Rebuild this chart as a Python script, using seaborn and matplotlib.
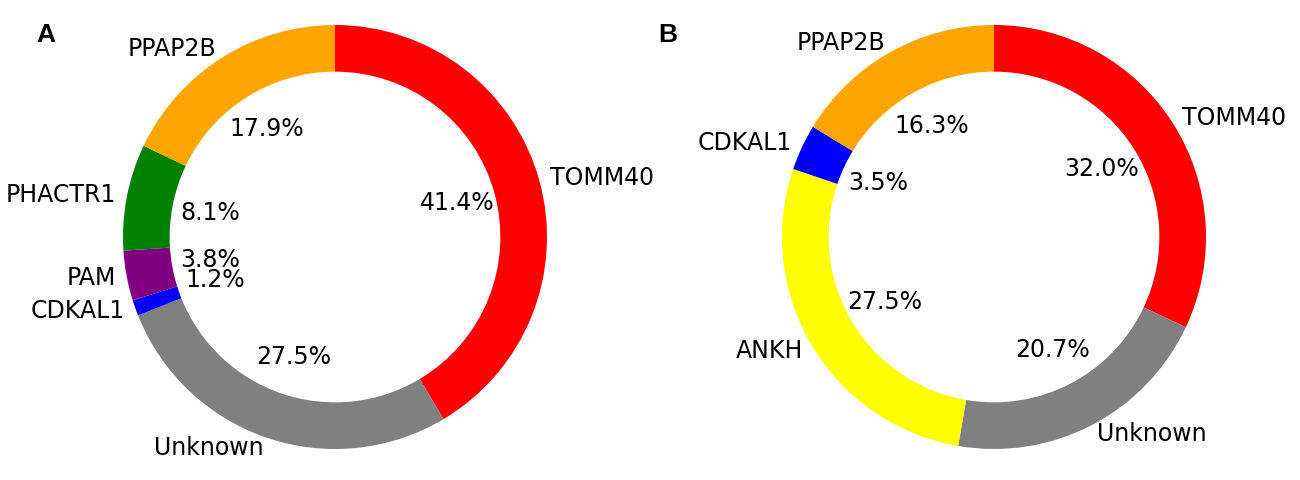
import matplotlib
matplotlib.use("Agg")
import matplotlib.pyplot as plt
import seaborn as sns

# Panel A data
genes_a = ["TOMM40", "Unknown", "CDKAL1", "PAM", "PHACTR1", "PPAP2B"]
pct_a = [41.4, 27.5, 1.2, 3.8, 8.1, 17.9]
colors_a = ["red", "gray", "blue", "purple", "green", "orange"]

# Panel B data
genes_b = ["TOMM40", "Unknown", "ANKH", "CDKAL1", "PPAP2B"]
pct_b = [32.0, 20.7, 27.5, 3.5, 16.3]
colors_b = ["red", "gray", "yellow", "blue", "orange"]

sns.set_theme(style="white")
plt.rcParams['font.family'] = ['DejaVu Sans']

W, H = 1300, 480
fig = plt.figure(figsize=(W / 100, H / 100), dpi=100)
fig.patch.set_facecolor("white")

R = 212  # pixel radius


def donut(cx, cy, genes, vals, cols, letter, lx, ly):
    ax = fig.add_axes([(cx - R) / W, (H - cy - R) / H, 2 * R / W, 2 * R / H])
    ax.pie(vals, labels=genes, colors=cols, startangle=90, counterclock=False,
           autopct='%1.1f%%', pctdistance=0.6, labeldistance=1.05,
           wedgeprops=dict(width=0.22, edgecolor='none', linewidth=0),
           textprops=dict(fontsize=17, color='black'))
    ax.set_xlim(-1, 1)
    ax.set_ylim(-1, 1)
    ax.set_aspect('equal')
    ax.axis('off')
    fig.text(lx / W, 1 - ly / H, letter, fontsize=19, fontweight='bold',
             color='black', family=['Liberation Sans', 'DejaVu Sans'],
             ha='left', va='baseline')


donut(335, 237, genes_a, pct_a, colors_a, "A", 36, 42)
donut(994, 237, genes_b, pct_b, colors_b, "B", 658, 42)

fig.savefig("out.png", dpi=100, facecolor="white")
